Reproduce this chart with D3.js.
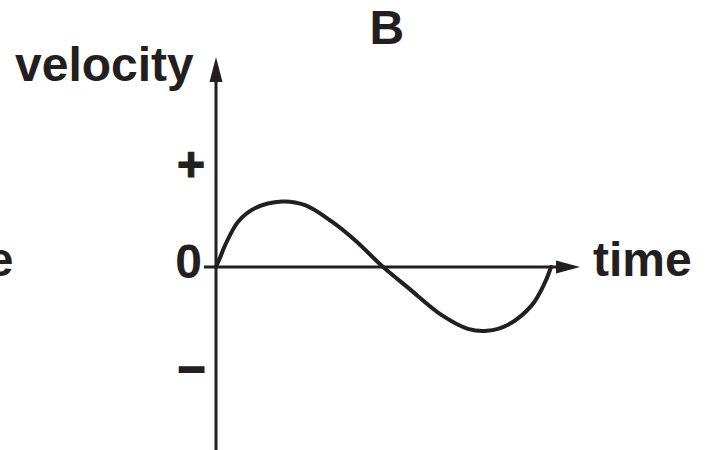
<!DOCTYPE html>
<html>
<head>
<meta charset="utf-8">
<script src="https://cdn.jsdelivr.net/npm/d3@7"></script>
<style>
  html, body { margin: 0; padding: 0; background: #fff; }
  svg { display: block; }
  text { font-family: "Liberation Sans", Arial, Helvetica, sans-serif; font-weight: bold; fill: #231f20; }
</style>
</head>
<body>
<script>
// ---- data ----
const title = "B";
const yLabel = "velocity";
const xLabel = "time";
const neighbourLabel = "time"; // cut-off label of the panel to the left
const time = [0, 1.2, 2.7, 6.6, 11.6, 19.7, 26.6, 34.6, 41.5, 49.9, 57.3, 67.5, 75.2, 80.9, 87.2, 94.3, 98.2, 100];
const velocity = [0, 0.09, 0.21, 0.44, 0.57, 0.635, 0.60, 0.44, 0.26, 0, -0.20, -0.47, -0.60, -0.62, -0.56, -0.37, -0.15, 0];
const yTickValues = [1, 0, -1];
const yTickLabels = ["+", "0", "\u2013"];

// ---- layout ----
const W = 710, H = 450;
const ink = "#231f20";
const svg = d3.select("body").append("svg").attr("width", W).attr("height", H);

const x = d3.scaleLinear().domain([0, 100]).range([216, 551]);
const y = d3.scaleLinear().domain([-1, 1]).range([370, 164]);

// axes
const axisG = svg.append("g").attr("stroke", ink).attr("stroke-width", 3);
axisG.append("line")
  .attr("x1", x(0)).attr("x2", x(0))
  .attr("y1", H).attr("y2", 78);
axisG.append("line")
  .attr("x1", x(-3.6)).attr("x2", 560)
  .attr("y1", y(0)).attr("y2", y(0));

// arrowheads
svg.append("path")
  .attr("d", `M${x(0)},57 L${x(0) - 6.5},82 L${x(0) + 6.5},82 Z`)
  .attr("fill", ink);
svg.append("path")
  .attr("d", `M580,${y(0)} L556,${y(0) - 6.5} L556,${y(0) + 6.5} Z`)
  .attr("fill", ink);

// curve
const pts = time.map((t, i) => [t, velocity[i]]);
svg.append("path")
  .datum(pts)
  .attr("fill", "none")
  .attr("stroke", ink)
  .attr("stroke-width", 4)
  .attr("stroke-linecap", "round")
  .attr("d", d3.line().x(d => x(d[0])).y(d => y(d[1])).curve(d3.curveCatmullRom.alpha(0.5)));

// y tick labels
const tickDy = { "+": 17, "0": 10.5, "\u2013": 12.5 };
const tickEnd = { "+": 205, "0": 202, "\u2013": 205 };
const tickStroke = { "+": 1.2, "0": 0, "\u2013": 2 };
svg.selectAll("text.ytick")
  .data(yTickValues)
  .join("text")
  .attr("class", "ytick")
  .attr("text-anchor", "end")
  .attr("font-size", 48)
  .attr("x", (d, i) => tickEnd[yTickLabels[i]])
  .attr("y", (d, i) => y(d) + tickDy[yTickLabels[i]])
  .attr("stroke", ink)
  .attr("stroke-width", (d, i) => tickStroke[yTickLabels[i]])
  .text((d, i) => yTickLabels[i]);

// labels
svg.append("text").attr("x", 15).attr("y", 81).attr("font-size", 48).text(yLabel);
svg.append("text").attr("x", 593).attr("y", 276).attr("font-size", 48).text(xLabel);
svg.append("text").attr("x", 369.5).attr("y", 44).attr("font-size", 48).text(title);
svg.append("text").attr("x", 13.5).attr("y", 276).attr("text-anchor", "end").attr("font-size", 48).text(neighbourLabel);
</script>
</body>
</html>
